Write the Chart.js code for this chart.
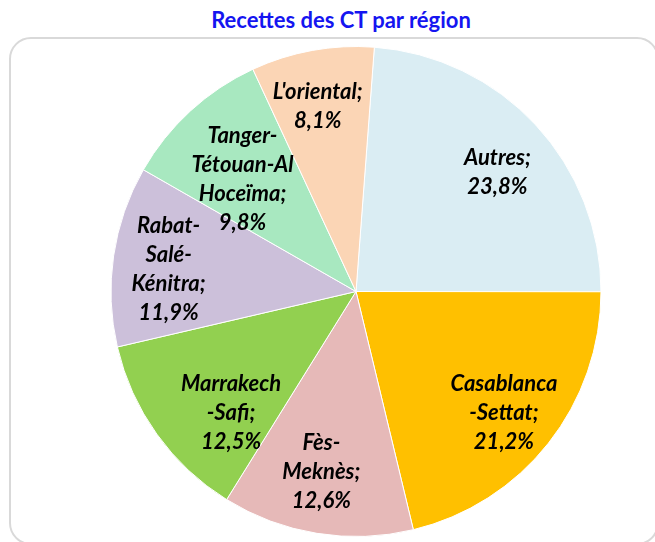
<!DOCTYPE html>
<html>
<head>
<meta charset="utf-8">
<script src="https://cdn.jsdelivr.net/npm/chart.js@4"></script>
<style>
  html, body { margin: 0; padding: 0; background: #fff; overflow: hidden; }
  #wrap { position: relative; width: 655px; height: 542px; overflow: hidden; }
  #frame { position: absolute; left: 9px; top: 37px; width: 650px; height: 508px;
           border: 2px solid #d9d9d9; border-radius: 22px; box-sizing: border-box; }
  #title { position: absolute; left: 141px; width: 400px; top: 6px; text-align: center;
           font: bold 22px Lato, sans-serif; color: #1515F0; line-height: 28px; }
  #pie { position: absolute; left: 0; top: 0; }
</style>
</head>
<body>
<div id="wrap">
  <div id="frame"></div>
  <div id="title">Recettes des CT par région</div>
  <canvas id="pie" width="655" height="542"></canvas>
</div>
<script>
var regions = ["Autres", "Casablanca-Settat", "Fès-Meknès", "Marrakech-Safi", "Rabat-Salé-Kénitra", "Tanger-Tétouan-Al Hoceïma", "L'oriental"];
var shares = [23.8, 21.2, 12.6, 12.5, 11.9, 9.8, 8.1];
var colors = ['#DAEDF3', '#FFC000', '#E6B9B8', '#92D050', '#CCC0DA', '#A8E8C0', '#FBD5B5'];

// how each label is wrapped, as in the original
var labelLines = [
    ["Autres;"],
    ["Casablanca", "-Settat;"],
    ["Fès-", "Meknès;"],
    ["Marrakech", "-Safi;"],
    ["Rabat-", "Salé-", "Kénitra;"],
    ["Tanger-", "Tétouan-Al", "Hoceïma;"],
    ["L'oriental;"]
];
// label placement: fraction of radius, and turn (degrees) from the slice middle
var labelRadius = [0.755, 0.78, 0.75, 0.71, 0.77, 0.65, 0.77];
var labelTurn = [2.7, 1, 1.7, -8.5, -1.7, -2.9, -1.4];

var sliceLabels = {
    id: 'sliceLabels',
    afterDatasetsDraw: function (chart) {
        var c = chart.ctx;
        var arcs = chart.getDatasetMeta(0).data;
        c.save();
        c.font = 'italic bold 22px Lato';
        c.fillStyle = '#000';
        c.textAlign = 'center';
        c.textBaseline = 'middle';
        arcs.forEach(function (arc, i) {
            var p = arc.getProps(['x', 'y', 'startAngle', 'endAngle', 'outerRadius']);
            var mid = (p.startAngle + p.endAngle) / 2 + labelTurn[i] * Math.PI / 180;
            var r = p.outerRadius * labelRadius[i];
            var cx = p.x + Math.cos(mid) * r;
            var cy = p.y + Math.sin(mid) * r;
            var lines = labelLines[i].concat([shares[i].toFixed(1).replace('.', ',') + '%']);
            var lh = 29;
            var y0 = cy - (lines.length - 1) * lh / 2;
            lines.forEach(function (t, k) {
                c.fillText(t, cx, y0 + k * lh);
            });
        });
        c.restore();
    }
};

var ctx = document.getElementById("pie").getContext('2d');

var pie = new Chart(ctx, {
    type: 'pie',
    data: {
        labels: regions,
        datasets: [{
            data: shares,
            backgroundColor: colors,
            borderColor: '#ffffff',
            borderWidth: 1
        }]
    },
    options: {
        responsive: false,
        animation: false,
        rotation: 4.3,
        layout: { padding: { left: 57, right: 0, top: 46, bottom: 5 } },
        plugins: {
            legend: { display: false },
            tooltip: { enabled: false },
            title: { display: false }
        }
    },
    plugins: [sliceLabels]
});
</script>
</body>
</html>
